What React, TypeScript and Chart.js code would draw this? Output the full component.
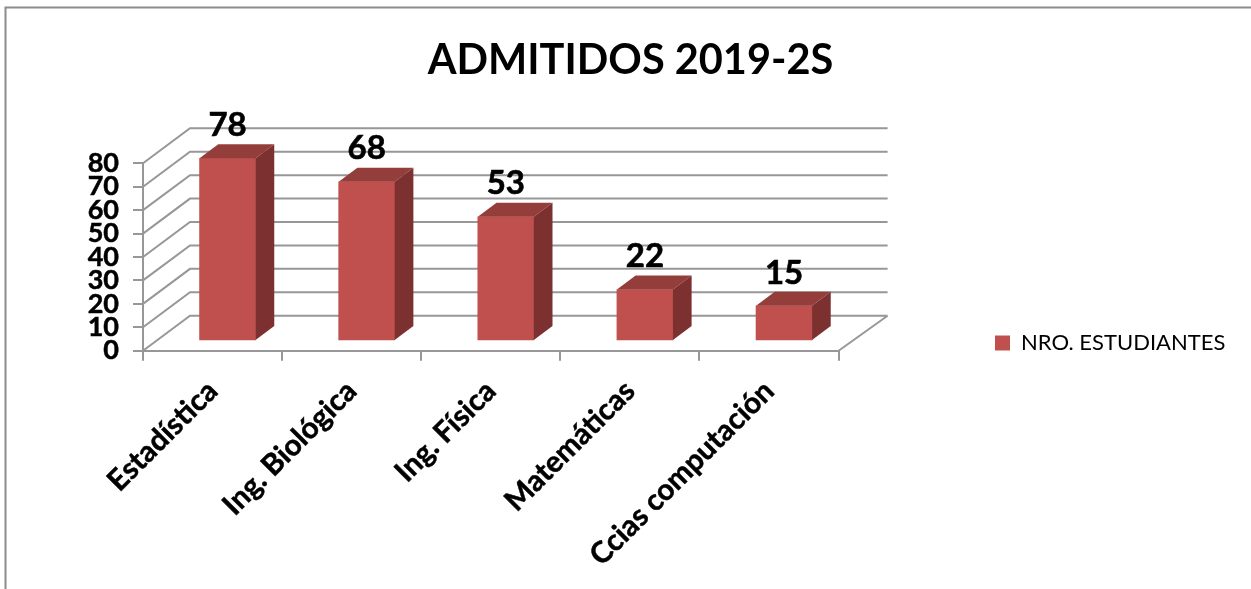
import React, { useEffect, useRef } from "react";
import { Chart, registerables } from "chart.js";

Chart.register(...registerables);

const categories = ["Estadística", "Ing. Biológica", "Ing. Física", "Matemáticas", "Ccias computación"];
const admitidos = [78, 68, 53, 22, 15];
const seriesName = "NRO. ESTUDIANTES";
const titleText = "ADMITIDOS 2019-2S";

const FONT = "Lato, Carlito, sans-serif";
const GRID = "#979797";
const wall = { dx: 47, dy: -35 };
const barShift = { dx: 15, dy: -9.7 };
const depth = { dx: 18.7, dy: -14 };

const scene3d = {
  id: "scene3d",
  beforeDraw(chart: any) {
    const { ctx, width, height } = chart;
    ctx.save();
    ctx.strokeStyle = "#8c8c8c";
    ctx.lineWidth = 2;
    ctx.beginPath();
    ctx.moveTo(5.5, height);
    ctx.lineTo(5.5, 7.5);
    ctx.lineTo(width, 7.5);
    ctx.stroke();
    ctx.restore();
  },
  afterLayout(chart: any) {
    const lg = chart.legend;
    if (lg) {
      lg.left = 985;
      lg.right = 1251;
      lg.top = 322;
      lg.bottom = 372;
    }
    const tt = chart.titleBlock;
    if (tt) {
      tt.left = 0;
      tt.right = 1261;
    }
  },
  beforeDatasetsDraw(chart: any) {
    const { ctx, chartArea, scales } = chart;
    const y = scales.y;
    ctx.save();
    ctx.strokeStyle = GRID;
    ctx.lineWidth = 2;
    y.ticks.forEach((t: any) => {
      const py = y.getPixelForValue(t.value);
      ctx.beginPath();
      ctx.moveTo(chartArea.left, py);
      ctx.lineTo(chartArea.left + wall.dx, py + wall.dy);
      ctx.lineTo(chartArea.right + wall.dx + 2, py + wall.dy);
      if (t.value === 0) {
        ctx.moveTo(chartArea.right + wall.dx + 2, py + wall.dy);
        ctx.lineTo(chartArea.right, py);
      }
      ctx.stroke();
    });
    ctx.restore();
    ctx.save();
    ctx.translate(barShift.dx, barShift.dy);
  },
  afterDatasetsDraw(chart: any) {
    const { ctx } = chart;
    const meta = chart.getDatasetMeta(0);
    meta.data.forEach((bar: any, i: number) => {
      const l = bar.x - bar.width / 2;
      const r = bar.x + bar.width / 2;
      ctx.fillStyle = "#943e3c";
      ctx.beginPath();
      ctx.moveTo(l, bar.y);
      ctx.lineTo(l + depth.dx, bar.y + depth.dy);
      ctx.lineTo(r + depth.dx, bar.y + depth.dy);
      ctx.lineTo(r, bar.y);
      ctx.closePath();
      ctx.fill();
      ctx.fillStyle = "#7c3130";
      ctx.beginPath();
      ctx.moveTo(r, bar.y);
      ctx.lineTo(r + depth.dx, bar.y + depth.dy);
      ctx.lineTo(r + depth.dx, bar.base + depth.dy);
      ctx.lineTo(r, bar.base);
      ctx.closePath();
      ctx.fill();
      ctx.fillStyle = "#000";
      ctx.strokeStyle = "#000";
      ctx.lineWidth = 0.6;
      ctx.font = `bold 33px ${FONT}`;
      ctx.textAlign = "center";
      ctx.textBaseline = "middle";
      ctx.fillText(String(admitidos[i]), bar.x, bar.y - 33);
      ctx.strokeText(String(admitidos[i]), bar.x, bar.y - 33);
    });
    ctx.restore();
  },
};

export default function App() {
  const ref = useRef<HTMLCanvasElement | null>(null);
  useEffect(() => {
    const chart = new Chart(ref.current as HTMLCanvasElement, {
      type: "bar",
      data: {
        labels: categories,
        datasets: [
          {
            label: seriesName,
            data: admitidos,
            backgroundColor: "#c0504d",
            barThickness: 56,
            clip: false,
          } as any,
        ],
      },
      plugins: [scene3d],
      options: {
        animation: false,
        responsive: false,
        layout: { autoPadding: false, padding: { left: 0, top: 0, right: 412.4, bottom: 0 } },
        plugins: {
          title: {
            display: true,
            text: titleText,
            color: "#000",
            font: { family: FONT, size: 41.5, weight: "bold", lineHeight: 1.2 },
            padding: { top: 36, bottom: 77.5 },
          },
          legend: {
            position: "chartArea",
            align: "start",
            labels: {
              boxWidth: 15,
              boxHeight: 15,
              color: "#000",
              font: { family: FONT, size: 22 },
            },
          },
          tooltip: { enabled: false },
        },
        scales: {
          x: {
            afterFit: (s: any) => {
              s.height = 238.3;
            },
            grid: { drawOnChartArea: false, tickLength: 10, color: GRID, lineWidth: 2 },
            border: { color: GRID, width: 2 },
            ticks: {
              color: "#000",
              maxRotation: 45,
              minRotation: 45,
              padding: 13,
              textStrokeColor: "#000",
              textStrokeWidth: 0.5,
              font: { family: FONT, size: 29.5, weight: "bold" },
            },
          },
          y: {
            min: 0,
            max: 80,
            afterFit: (s: any) => {
              s.width = 143;
            },
            grid: { drawOnChartArea: false, tickLength: 10, color: GRID, lineWidth: 2 },
            border: { color: GRID, width: 2 },
            ticks: {
              stepSize: 10,
              autoSkip: false,
              color: "#000",
              padding: 14,
              textStrokeColor: "#000",
              textStrokeWidth: 0.5,
              font: { family: FONT, size: 27, weight: "bold" },
            },
          },
        },
      },
    } as any);
    return () => chart.destroy();
  }, []);
  return (
    <div style={{ position: "absolute", left: 0, top: 0, width: 1251, height: 589, background: "#fff" }}>
      <canvas ref={ref} width={1251} height={589} style={{ display: "block" }} />
    </div>
  );
}
